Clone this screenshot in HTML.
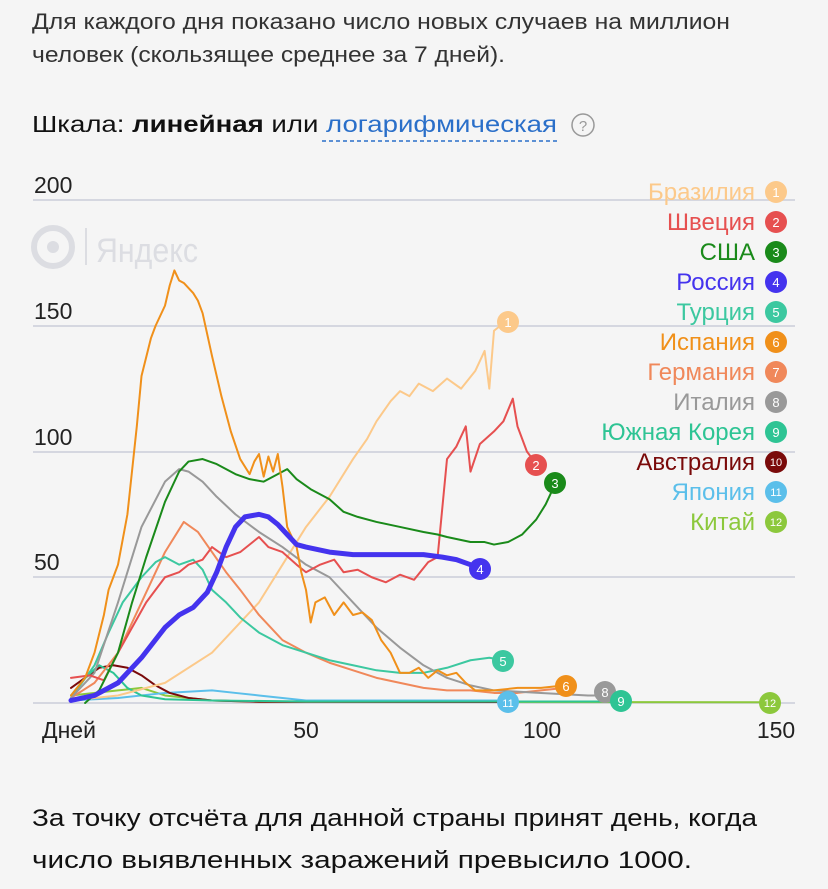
<!DOCTYPE html>
<html><head><meta charset="utf-8"><style>
html,body{margin:0;padding:0;background:#f5f5f5;}
body{width:828px;height:884px;overflow:hidden;font-family:"Liberation Sans",sans-serif;color:#222;}
svg text{font-family:"Liberation Sans",sans-serif;}
</style></head><body>
<svg width="828" height="884" viewBox="0 0 828 884" xmlns="http://www.w3.org/2000/svg">
<rect width="828" height="884" fill="#f5f5f5"/>
<text x="32" y="29" font-size="22" fill="#333" textLength="698" lengthAdjust="spacingAndGlyphs">Для каждого дня показано число новых случаев на миллион</text>
<text x="32" y="62" font-size="22" fill="#333" textLength="473" lengthAdjust="spacingAndGlyphs">человек (скользящее среднее за 7 дней).</text>
<text x="32" y="132" font-size="23" fill="#111" textLength="525" lengthAdjust="spacingAndGlyphs">Шкала: <tspan font-weight="bold">линейная</tspan> или <tspan fill="#2a6fc9">логарифмическая</tspan></text>
<line x1="322" y1="141" x2="557" y2="141" stroke="#2a6fc9" stroke-width="1.5" stroke-dasharray="4,3"/>
<circle cx="583" cy="125" r="11" fill="none" stroke="#999" stroke-width="1.5"/>
<text x="583" y="131" font-size="15" fill="#999" text-anchor="middle">?</text>

<!-- watermark -->
<circle cx="53" cy="247" r="19" fill="none" stroke="#dcdde2" stroke-width="6"/>
<circle cx="53" cy="247" r="6" fill="#dcdde2"/>
<line x1="86" y1="228" x2="86" y2="265" stroke="#dcdde2" stroke-width="2"/>
<text x="96" y="262" font-size="34" fill="#dcdde2" textLength="102" lengthAdjust="spacingAndGlyphs">Яндекс</text>

<!-- grid -->
<g stroke="#d5d7e0" stroke-width="2">
<line x1="33" y1="200" x2="795" y2="200"/>
<line x1="33" y1="326" x2="795" y2="326"/>
<line x1="33" y1="452" x2="795" y2="452"/>
<line x1="33" y1="577" x2="795" y2="577"/>
<line x1="33" y1="703" x2="795" y2="703"/>
</g>
<g font-size="23" fill="#222">
<text x="34" y="193">200</text>
<text x="34" y="319">150</text>
<text x="34" y="445">100</text>
<text x="34" y="570">50</text>
<text x="42" y="738">Дней</text>
<text x="306" y="738" text-anchor="middle">50</text>
<text x="542" y="738" text-anchor="middle">100</text>
<text x="776" y="738" text-anchor="middle">150</text>
</g>

<g transform="translate(71,703) scale(4.7,-2.515)" fill="none" stroke-linejoin="round" stroke-linecap="round">
<polyline vector-effect="non-scaling-stroke" stroke="#8cc83c" stroke-width="2" points="0,3 10,5 15,6 20,3 30,1 40,0.5 150,0.3"/>
<polyline vector-effect="non-scaling-stroke" stroke="#5bbfea" stroke-width="2" points="0,1 10,2 20,4 30,5 35,4 40,3 50,1 92,1"/>
<polyline vector-effect="non-scaling-stroke" stroke="#7a0a0a" stroke-width="2" points="0,6 3,10 6,14 9,15 12,14 15,11 18,7 21,4 25,2 30,1 40,0.5 92,0.4"/>
<polyline vector-effect="non-scaling-stroke" stroke="#2ec494" stroke-width="2" points="0,3 3,10 6,15 9,12 12,6 15,3 20,1.5 30,1 50,0.6 118,0.6"/>
<polyline vector-effect="non-scaling-stroke" stroke="#fcc98a" stroke-width="2" points="0,1 10,3 20,8 30,20 35,30 40,40 45,55 50,70 55,82 60,97 63,105 65,112 68,120 70,124 72,122 74,127 77,124 80,129 83,125 86,132 88,140 89,125 90,148 92,151"/>
<polyline vector-effect="non-scaling-stroke" stroke="#f0885a" stroke-width="2" points="0,2 5,8 10,20 15,40 20,60 24,72 27,68 30,60 33,52 36,45 40,35 45,25 50,20 55,16 60,13 65,10 70,8 75,6 80,5 85,5 90,4 95,4 100,5 105,6"/>
<polyline vector-effect="non-scaling-stroke" stroke="#3cc8a0" stroke-width="2" points="0,2 5,15 8,28 11,40 15,50 18,56 20,58 23,55 26,57 28,53 30,45 33,40 36,34 40,28 45,23 50,20 55,17 60,15 65,13 70,12 75,12 80,14 85,17 89,18 92,17"/>
<polyline vector-effect="non-scaling-stroke" stroke="#999" stroke-width="2" points="0,2 5,12 10,40 15,70 20,88 23,93 25,92 28,88 31,82 35,75 40,68 45,62 50,55 55,50 60,40 65,30 70,22 75,15 80,10 85,7 90,5 100,4 110,3 113,3"/>
<polyline vector-effect="non-scaling-stroke" stroke="#e65050" stroke-width="2" points="0,10 4,11 7,9 10,20 13,30 16,40 20,50 23,52 25,55 28,57 30,62 33,58 36,60 40,66 42,62 45,60 48,55 50,52 53,55 56,57 58,52 61,53 64,50 67,48 70,51 73,49 76,56 78,58 80,97 82,102 84,110 85,92 87,103 90,108 92,112 94,121 95,110 97,100 99,95"/>
<polyline vector-effect="non-scaling-stroke" stroke="#1a8a1a" stroke-width="2" points="3,0 6,5 10,20 13,40 16,58 20,80 23,92 25,96 28,97 31,95 35,91 38,89 41,88 44,91 46,93 48,89 51,85 55,81 58,76 61,74 65,72 70,70 75,68 78,67 80,66 85,64 88,64 90,63 93,64 96,67 99,73 101,79 103,87"/>
<polyline vector-effect="non-scaling-stroke" stroke="#f0901a" stroke-width="2" points="0,3 3,10 5,20 7,35 8,45 9,50 10,55 11,65 12,75 14,110 15,130 17,145 18,150 20,158 21,166 22,172 23,168 24,167 26,163 27,160 28,155 30,138 32,122 34,108 36,97 38,91 39,96 40,99 41,90 42,98 43,92 44,99 45,86 46,70 47,66 48,62 49,52 50,45 51,32 52,40 54,42 56,35 58,40 60,35 62,36 64,33 66,25 68,20 70,12 72,12 74,14 76,10 78,13 80,11 82,12 84,8 86,5 90,5 95,6 100,6 105,7"/>
<polyline vector-effect="non-scaling-stroke" stroke="#4433ee" stroke-width="5" points="0,1 5,3 10,8 15,18 20,30 23,35 26,38 29,44 31,52 33,62 35,70 37,74 40,75 42,74 44,71 46,67 48,63 50,62 55,60 60,59 65,59 70,59 75,59 79,58 82,57 85,55 87,53"/>
</g>

<g font-size="13" fill="#fff" text-anchor="middle">
<circle cx="508" cy="322" r="11" fill="#fcc98a"/><text x="508" y="327">1</text>
<circle cx="536" cy="465" r="11" fill="#e65050"/><text x="536" y="470">2</text>
<circle cx="555" cy="483" r="11" fill="#1a8a1a"/><text x="555" y="488">3</text>
<circle cx="480" cy="569" r="11" fill="#4433ee"/><text x="480" y="574">4</text>
<circle cx="503" cy="661" r="11" fill="#3cc8a0"/><text x="503" y="666">5</text>
<circle cx="566" cy="686" r="11" fill="#f0901a"/><text x="566" y="691">6</text>
<circle cx="605" cy="692" r="11" fill="#999"/><text x="605" y="697">8</text>
<circle cx="621" cy="701" r="11" fill="#2ec494"/><text x="621" y="706">9</text>
<circle cx="508" cy="702" r="11" fill="#5bbfea"/><text x="508" y="707" font-size="11">11</text>
<circle cx="770" cy="703" r="11" fill="#8cc83c"/><text x="770" y="707" font-size="11">12</text>
</g>

<g font-size="24" text-anchor="end">
<text x="755" y="200" fill="#fcc98a">Бразилия</text>
<text x="755" y="230" fill="#e65050">Швеция</text>
<text x="755" y="260" fill="#1a8a1a">США</text>
<text x="755" y="290" fill="#4433ee">Россия</text>
<text x="755" y="320" fill="#3cc8a0">Турция</text>
<text x="755" y="350" fill="#f0901a">Испания</text>
<text x="755" y="380" fill="#f0885a">Германия</text>
<text x="755" y="410" fill="#999">Италия</text>
<text x="755" y="440" fill="#2ec494">Южная Корея</text>
<text x="755" y="470" fill="#7a0a0a">Австралия</text>
<text x="755" y="500" fill="#5bbfea">Япония</text>
<text x="755" y="530" fill="#8cc83c">Китай</text>
</g>
<g font-size="13" fill="#fff" text-anchor="middle">
<circle cx="776" cy="192" r="11" fill="#fcc98a"/><text x="776" y="197">1</text>
<circle cx="776" cy="222" r="11" fill="#e65050"/><text x="776" y="227">2</text>
<circle cx="776" cy="252" r="11" fill="#1a8a1a"/><text x="776" y="257">3</text>
<circle cx="776" cy="282" r="11" fill="#4433ee"/><text x="776" y="287">4</text>
<circle cx="776" cy="312" r="11" fill="#3cc8a0"/><text x="776" y="317">5</text>
<circle cx="776" cy="342" r="11" fill="#f0901a"/><text x="776" y="347">6</text>
<circle cx="776" cy="372" r="11" fill="#f0885a"/><text x="776" y="377">7</text>
<circle cx="776" cy="402" r="11" fill="#999"/><text x="776" y="407">8</text>
<circle cx="776" cy="432" r="11" fill="#2ec494"/><text x="776" y="437">9</text>
<circle cx="776" cy="462" r="11" fill="#7a0a0a"/><text x="776" y="466" font-size="11">10</text>
<circle cx="776" cy="492" r="11" fill="#5bbfea"/><text x="776" y="496" font-size="11">11</text>
<circle cx="776" cy="522" r="11" fill="#8cc83c"/><text x="776" y="526" font-size="11">12</text>
</g>

<text x="32" y="826" font-size="24" fill="#111" textLength="725" lengthAdjust="spacingAndGlyphs">За точку отсчёта для данной страны принят день, когда</text>
<text x="32" y="868" font-size="24" fill="#111" textLength="660" lengthAdjust="spacingAndGlyphs">число выявленных заражений превысило 1000.</text>
</svg>
</body></html>
